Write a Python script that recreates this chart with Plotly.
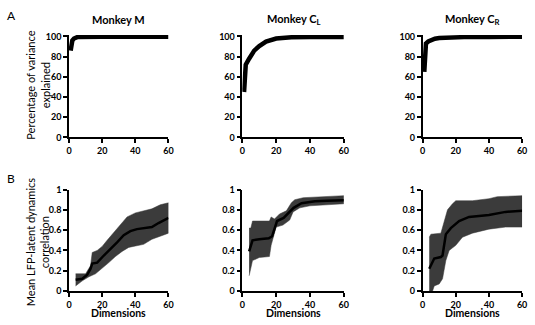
import plotly.graph_objects as go

# ---------- Data ----------
titles = ["Monkey M", "Monkey C<sub>L</sub>", "Monkey C<sub>R</sub>"]

# Panel A: percentage of variance explained vs dimensions
varM_x = [1, 1.3, 2, 3, 4, 5, 6, 8, 10, 20, 40, 60]
varM_y = [86, 92, 96, 98, 99, 99.4, 99.6, 99.7, 99.8, 99.8, 99.8, 99.8]
varCL_x = [1, 2, 4, 7, 10, 14, 20, 29, 40, 60]
varCL_y = [45, 72, 78, 86, 90.5, 95, 98, 99.2, 99.5, 99.6]
varCR_x = [1, 1.4, 2, 3.4, 5, 7.4, 10, 15, 25, 40, 60]
varCR_y = [65, 88, 93, 95, 96.5, 97.8, 98.4, 99, 99.4, 99.6, 99.7]

# Panel B: mean LFP-latent dynamics correlation (mean, upper, lower)
bM_x = [4, 8, 11, 13, 14, 17, 21, 25, 29, 33, 37, 41, 45, 50, 54, 58, 60]
bM_mean = [0.11, 0.12, 0.16, 0.22, 0.27, 0.28, 0.35, 0.41, 0.48, 0.55, 0.59, 0.61, 0.62, 0.63, 0.67, 0.70, 0.72]
bM_up_x = [4, 10, 13, 14, 17, 20, 23, 27, 31, 35, 40, 45, 50, 55, 60]
bM_up = [0.17, 0.17, 0.25, 0.38, 0.40, 0.44, 0.50, 0.58, 0.66, 0.73, 0.77, 0.79, 0.81, 0.85, 0.87]
bM_lo_x = [4, 8, 12, 16, 20, 24, 28, 32, 36, 40, 45, 50, 55, 60]
bM_lo = [0.05, 0.10, 0.14, 0.17, 0.22, 0.28, 0.34, 0.39, 0.43, 0.44, 0.46, 0.51, 0.54, 0.57]

bCL_x = [4, 5, 6, 10, 15.6, 17.6, 20.5, 24.4, 27.3, 30.3, 35, 43, 50, 60]
bCL_mean = [0.39, 0.45, 0.50, 0.51, 0.52, 0.54, 0.69, 0.72, 0.77, 0.82, 0.865, 0.885, 0.89, 0.895]
bCL_up_x = [4, 5, 6, 16, 17, 19, 22, 26, 29, 31, 36, 45, 60]
bCL_up = [0.62, 0.62, 0.69, 0.69, 0.73, 0.71, 0.76, 0.79, 0.87, 0.90, 0.92, 0.93, 0.94]
bCL_lo_x = [4, 5, 6, 10, 16, 17, 20, 24, 28, 30, 34, 40, 50, 60]
bCL_lo = [0.15, 0.22, 0.30, 0.33, 0.34, 0.45, 0.63, 0.65, 0.70, 0.78, 0.82, 0.84, 0.85, 0.86]

bCR_x = [4, 7, 11, 12, 14, 17, 22, 28, 40, 50, 60]
bCR_mean = [0.22, 0.32, 0.335, 0.35, 0.56, 0.62, 0.69, 0.73, 0.75, 0.78, 0.79]
bCR_up_x = [4, 5, 11, 13, 15, 18, 20, 30, 40, 45, 60]
bCR_up = [0.53, 0.56, 0.57, 0.70, 0.80, 0.86, 0.89, 0.89, 0.91, 0.93, 0.94]
bCR_lo_x = [4, 6, 7, 10, 12, 14, 16, 20, 24, 30, 40, 50, 60]
bCR_lo = [0.0, 0.0, 0.05, 0.07, 0.12, 0.30, 0.40, 0.45, 0.53, 0.57, 0.61, 0.63, 0.63]

xticks = [0, 20, 40, 60]
yticksA = [0, 20, 40, 60, 80, 100]
yticksB = [0, 0.2, 0.4, 0.6, 0.8, 1]
yticklabB = ["0", "0.2", "0.4", "0.6", "0.8", "1"]

# ---------- Figure ----------
W, H = 535, 325
FONT = "Lato"
fig = go.Figure()

cols_px = [(67, 168), (243, 346), (426, 527)]
rowA_px = (30, 136)
rowB_px = (190, 295)

def xd(a, b):
    return [a / W, b / W]

def yd(top, bot):
    return [1 - bot / H, 1 - top / H]

varA = [(varM_x, varM_y), (varCL_x, varCL_y), (varCR_x, varCR_y)]
varB = [
    (bM_x, bM_mean, bM_up_x, bM_up, bM_lo_x, bM_lo),
    (bCL_x, bCL_mean, bCL_up_x, bCL_up, bCL_lo_x, bCL_lo),
    (bCR_x, bCR_mean, bCR_up_x, bCR_up, bCR_lo_x, bCR_lo),
]

axstyle = dict(showline=True, linecolor="black", linewidth=1.5, ticks="outside",
               ticklen=4, tickwidth=1.5, tickcolor="black", showgrid=False,
               zeroline=False, tickfont=dict(family=FONT, size=9, color="black", weight="bold"))

for i in range(3):
    n = i + 1
    xa = f"x{n}" if n > 1 else "x"
    ya = f"y{n}" if n > 1 else "y"
    fig.add_trace(go.Scatter(x=varA[i][0], y=varA[i][1], mode="lines",
                             line=dict(color="black", width=4.5),
                             xaxis=xa, yaxis=ya, showlegend=False, hoverinfo="skip"))
    fig.layout[f"xaxis{n}" if n > 1 else "xaxis"] = dict(
        domain=xd(*cols_px[i]), range=[0, 60], tickvals=xticks, anchor=ya, **axstyle)
    fig.layout[f"yaxis{n}" if n > 1 else "yaxis"] = dict(
        domain=yd(*rowA_px), range=[0, 101.5], tickvals=yticksA, anchor=xa, **axstyle)

    m = i + 4
    xb = f"x{m}"
    yb = f"y{m}"
    bx, bmean, ux, uy, lx, ly = varB[i]
    poly_x = list(ux) + list(reversed(lx))
    poly_y = list(uy) + list(reversed(ly))
    fig.add_trace(go.Scatter(x=poly_x, y=poly_y, mode="lines", fill="toself",
                             fillcolor="#3b3b3b", line=dict(color="#3b3b3b", width=0.5),
                             xaxis=xb, yaxis=yb, showlegend=False, hoverinfo="skip"))
    fig.add_trace(go.Scatter(x=bx, y=bmean, mode="lines",
                             line=dict(color="black", width=2.5),
                             xaxis=xb, yaxis=yb, showlegend=False, hoverinfo="skip"))
    fig.layout[f"xaxis{m}"] = dict(
        domain=xd(*cols_px[i]), range=[0, 60], tickvals=xticks, anchor=yb, **axstyle)
    fig.layout[f"yaxis{m}"] = dict(
        domain=yd(*rowB_px), range=[0, 1.0], tickvals=yticksB, ticktext=yticklabB,
        anchor=xb, **axstyle)

annots = []
centers = [117, 295, 477]
for i in range(3):
    annots.append(dict(text=titles[i], x=centers[i] / W, y=1 - 14 / H, xref="paper", yref="paper",
                       showarrow=False, xanchor="center", yanchor="middle",
                       font=dict(family=FONT, size=11, color="black", weight="bold")))
    annots.append(dict(text="Dimensions", x=centers[i] / W, y=0, xref="paper", yref="paper",
                       showarrow=False, xanchor="center", yanchor="bottom", borderpad=0,
                       font=dict(family=FONT, size=10.5, color="black", weight="bold")))
annots.append(dict(text="A", x=2 / W, y=1 - 10 / H, xref="paper", yref="paper", showarrow=False,
                   xanchor="left", yanchor="middle", font=dict(family=FONT, size=12, color="black")))
annots.append(dict(text="B", x=2 / W, y=1 - 179 / H, xref="paper", yref="paper", showarrow=False,
                   xanchor="left", yanchor="middle", font=dict(family=FONT, size=12, color="black")))
annots.append(dict(text="Percentage of variance<br>explained", x=35 / W, y=1 - 82 / H,
                   xref="paper", yref="paper", showarrow=False, textangle=-90,
                   xanchor="center", yanchor="middle",
                   font=dict(family=FONT, size=11, color="black")))
annots.append(dict(text="Mean LFP-latent dynamics<br>correlation", x=35 / W, y=1 - 244 / H,
                   xref="paper", yref="paper", showarrow=False, textangle=-90,
                   xanchor="center", yanchor="middle",
                   font=dict(family=FONT, size=11, color="black")))

fig.update_layout(width=W, height=H, margin=dict(l=0, r=0, t=0, b=0),
                  paper_bgcolor="white", plot_bgcolor="white", annotations=annots,
                  hovermode=False)

fig.write_html("out.html", config={"displayModeBar": False},
               post_script="document.body.style.margin='0';document.body.style.padding='0';")
